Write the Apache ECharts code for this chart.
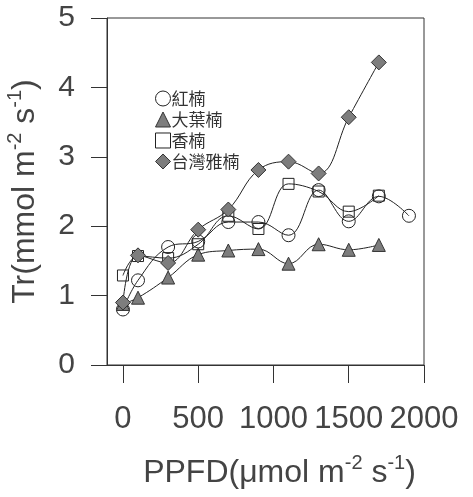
<!DOCTYPE html>
<html>
<head>
<meta charset="utf-8">
<script src="https://cdn.jsdelivr.net/npm/echarts@6/dist/echarts.min.js"></script>
<style>
  html, body { margin: 0; padding: 0; background: #fff; }
  #chart { width: 473px; height: 497px; }
</style>
</head>
<body>
<div id="chart"></div>
<script>
// PPFD levels
const ppfd = [0, 100, 300, 500, 700, 900, 1100, 1300, 1500, 1700, 1900];
// Tr values per species
const hongNan = [0.80, 1.22, 1.70, 1.78, 2.06, 2.06, 1.87, 2.52, 2.07, 2.43, 2.15];
const daYeNan = [0.88, 0.97, 1.26, 1.59, 1.65, 1.67, 1.46, 1.74, 1.66, 1.73];
const xiangNan = [1.29, 1.57, 1.54, 1.74, 2.15, 1.96, 2.61, 2.50, 2.21, 2.44];
const taiwanNan = [0.90, 1.58, 1.47, 1.95, 2.24, 2.81, 2.93, 2.76, 3.57, 4.36];
const xTicks = [0, 500, 1000, 1500, 2000];
const names = ["紅楠", "大葉楠", "香楠", "台灣雅楠"];

const pairs = vals => vals.map((v, i) => [ppfd[i], v]);

let myChart = echarts.init(document.getElementById("chart"));
const axisFont = "Liberation Sans, Arial, sans-serif";
const cjk = "Noto Sans CJK TC, sans-serif";

const hollow = { color: "rgba(255,255,255,0)", borderColor: "#222", borderWidth: 1 };
const filled = { color: "#7d7d7d", borderColor: "#333", borderWidth: 1 };
const supStyle = { fontSize: 20, fontFamily: axisFont, color: "#444", padding: [0, 0, 20, 0] };

function line(name, data, symbol, size, style) {
  return {
    name: name,
    type: "line",
    data: pairs(data),
    smooth: 0.4,
    symbol: symbol,
    symbolSize: size,
    showAllSymbol: true,
    itemStyle: style,
    lineStyle: { color: "#222", width: 1 },
    emphasis: { disabled: true }
  };
}

let option = {
  animation: false,
  grid: {
    left: 107, right: 49, top: 18, bottom: 132,
    outerBoundsMode: "none",
    show: true, borderColor: "#333", borderWidth: 1
  },
  legend: {
    orient: "vertical",
    left: 150, top: 85,
    itemWidth: 15, itemHeight: 15, itemGap: 4,
    textStyle: { fontSize: 17, fontFamily: cjk, color: "#333", padding: [0, 0, 0, -4] },
    data: [
      { name: names[0], icon: "circle", itemStyle: { color: "#fff", borderColor: "#222", borderWidth: 1 } },
      { name: names[1], icon: "triangle", itemStyle: filled },
      { name: names[2], icon: "rect", itemStyle: { color: "#fff", borderColor: "#222", borderWidth: 1 } },
      { name: names[3], icon: "diamond", itemStyle: filled }
    ]
  },
  xAxis: {
    type: "value",
    min: -106, max: 2000,
    name: "PPFD(μmol m{sup|-2} s{sup|-1})",
    nameLocation: "middle",
    nameGap: 88,
    nameTextStyle: {
      fontSize: 32, fontFamily: axisFont, color: "#444", padding: [0, 0, 0, 28],
      rich: { sup: supStyle }
    },
    axisLine: { onZero: false, lineStyle: { color: "#333" } },
    axisTick: { inside: false, length: 18, customValues: xTicks, lineStyle: { color: "#333" } },
    axisLabel: {
      customValues: xTicks, fontSize: 31, fontFamily: axisFont, color: "#444", margin: 39,
      hideOverlap: false, showMaxLabel: true,
      formatter: v => String(v)
    },
    splitLine: { show: false }
  },
  yAxis: {
    type: "value",
    min: 0, max: 5, interval: 1,
    name: "Tr(mmol m{sup|-2} s{sup|-1})",
    nameLocation: "middle",
    nameGap: 62,
    nameTextStyle: {
      fontSize: 32, fontFamily: axisFont, color: "#444",
      rich: { sup: supStyle }
    },
    axisLine: { show: true, onZero: false, lineStyle: { color: "#333" } },
    axisTick: { show: true, inside: false, length: 16, lineStyle: { color: "#333" } },
    axisLabel: { fontSize: 30, fontFamily: axisFont, color: "#444", margin: 32 },
    splitLine: { show: false }
  },
  series: [
    line(names[0], hongNan, "circle", 13, hollow),
    line(names[1], daYeNan, "triangle", 13, filled),
    line(names[2], xiangNan, "rect", 11, hollow),
    line(names[3], taiwanNan, "diamond", 15, filled)
  ]
};
myChart.setOption(option);
</script>
</body>
</html>
